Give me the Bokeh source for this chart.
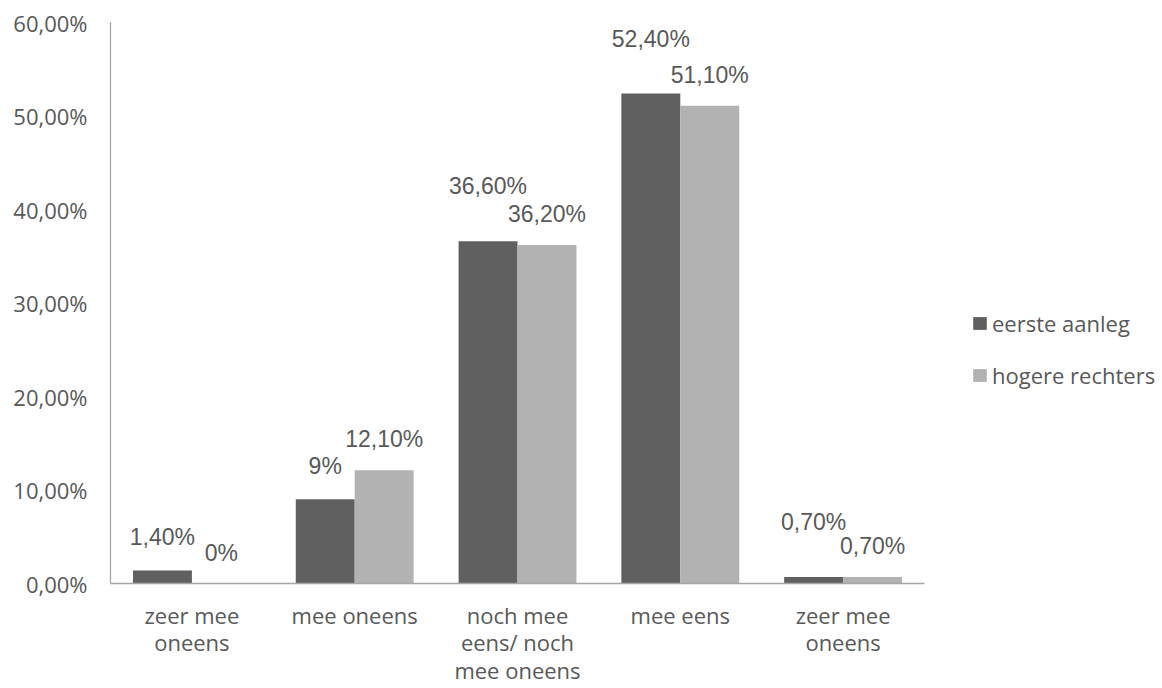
from bokeh.plotting import figure
from bokeh.models import Range1d, FixedTicker, Label, Legend, LegendItem, ColumnDataSource
from bokeh.embed import file_html
from bokeh.resources import INLINE

categories = ["zeer mee oneens", "mee oneens", "noch mee eens/ noch mee oneens", "mee eens", "zeer mee oneens"]
category_labels = ["zeer mee\noneens", "mee oneens", "noch mee\neens/ noch\nmee oneens", "mee eens", "zeer mee\noneens"]
series_names = ["eerste aanleg", "hogere rechters"]
eerste_aanleg = [1.4, 9.0, 36.6, 52.4, 0.7]
hogere_rechters = [0.0, 12.1, 36.2, 51.1, 0.7]
eerste_labels = ["1,40%", "9%", "36,60%", "52,40%", "0,70%"]
hogere_labels = ["0%", "12,10%", "36,20%", "51,10%", "0,70%"]
y_ticks = [0, 10, 20, 30, 40, 50, 60]
y_tick_labels = ["0,00%", "10,00%", "20,00%", "30,00%", "40,00%", "50,00%", "60,00%"]

DARK = "#606060"
LIGHT = "#b2b2b2"
TEXT = "#595959"
AXIS = "#a6a6a6"
BAR_W = 0.362

n = len(categories)
idx = list(range(n))

# raise the dark label when both labels are long and would collide
dark_off = []
light_off = []
for d, l, dl, ll in zip(eerste_aanleg, hogere_rechters, eerste_labels, hogere_labels):
    collide = len(dl) > 3 and len(ll) > 3 and abs(d - l) < 3
    dark_off.append(55 if collide else 33)
    light_off.append(31)

src_d = ColumnDataSource(dict(x=[i - BAR_W / 2 for i in idx], top=eerste_aanleg))
src_l = ColumnDataSource(dict(x=[i + BAR_W / 2 for i in idx], top=hogere_rechters))

W, H = 1160, 688
LEFT, TOP, BOTTOM = 110, 22, 103
PLOT_W = 814  # width of the category area in px
frame_w = W - LEFT - 2
x_end = -0.5 + n * frame_w / PLOT_W

p = figure(width=W, height=H, output_backend="svg", toolbar_location=None,
           x_range=Range1d(-0.5, x_end), y_range=Range1d(0, 60),
           min_border_left=LEFT, min_border_right=2, min_border_top=TOP, min_border_bottom=BOTTOM)
p.outline_line_color = None
p.xgrid.visible = False
p.ygrid.visible = False

r_d = p.vbar(x="x", top="top", width=BAR_W, source=src_d, fill_color=DARK, line_color=None)
r_l = p.vbar(x="x", top="top", width=BAR_W, source=src_l, fill_color=LIGHT, line_color=None)

for i in idx:
    p.add_layout(Label(x=i - BAR_W / 2, y=eerste_aanleg[i], text=eerste_labels[i], y_offset=dark_off[i],
                       text_align="center", text_baseline="middle", text_font="Liberation Sans",
                       text_font_size="23px", text_color=TEXT))
    p.add_layout(Label(x=i + BAR_W / 2, y=hogere_rechters[i], text=hogere_labels[i], y_offset=light_off[i],
                       text_align="center", text_baseline="middle", text_font="Liberation Sans",
                       text_font_size="23px", text_color=TEXT))

p.xaxis.ticker = FixedTicker(ticks=idx)
p.xaxis.major_label_overrides = {i: category_labels[i] for i in idx}
p.xaxis.bounds = (-0.5, n - 0.5)
p.yaxis.ticker = FixedTicker(ticks=y_ticks)
p.yaxis.major_label_overrides = {t: s for t, s in zip(y_ticks, y_tick_labels)}
for ax in (p.xaxis, p.yaxis):
    ax.axis_line_color = AXIS
    ax.axis_line_width = 1.3
    ax.major_tick_line_color = None
    ax.minor_tick_line_color = None
    ax.major_label_text_font = "Open Sans"
    ax.major_label_text_font_size = "22px"
    ax.major_label_text_color = TEXT
p.xaxis.major_label_text_line_height = 0.93
p.xaxis.major_label_standoff = 10
p.yaxis.major_label_standoff = 17

legend = Legend(items=[LegendItem(label=series_names[0], renderers=[r_d]),
                       LegendItem(label=series_names[1], renderers=[r_l])],
                location=(PLOT_W + 47, 193), orientation="vertical",
                label_text_font="Open Sans", label_text_font_size="22px", label_text_color=TEXT,
                glyph_width=17, glyph_height=16, label_standoff=4, spacing=22, label_height=30,
                padding=0, margin=0, border_line_color=None, background_fill_alpha=0)
p.add_layout(legend, "center")

open("out.html", "w").write(file_html(p, INLINE))
